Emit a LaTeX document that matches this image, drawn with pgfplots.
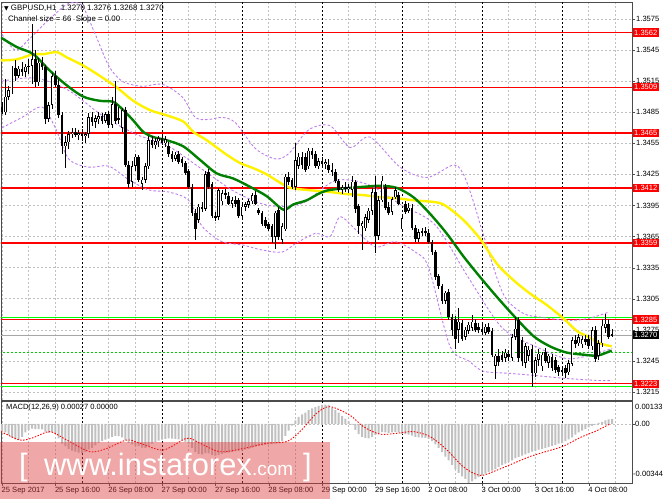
\documentclass[border=0pt]{standalone}
\usepackage{pgfplots}
\pgfplotsset{compat=1.18}
\usepackage{pgfplotstable}
\usepackage{fontspec}
\setmainfont{Liberation Sans}
\newfontfamily\symfont{DejaVu Sans}

\definecolor{mtgrid}{RGB}{192,192,192}
\definecolor{silver}{RGB}{192,192,192}
\definecolor{lilac}{RGB}{190,125,235}
\definecolor{mtgreen}{RGB}{0,128,0}
\definecolor{lime}{RGB}{0,255,0}
\definecolor{mtred}{RGB}{255,0,0}
\definecolor{wmred}{RGB}{220,60,60}

% hourly candles, x = bar index from 25 Sep 00:00
\pgfplotstableread{
i o h l c
0 1.3490 1.3495 1.3483 1.3485
1 1.3485 1.3517 1.3482 1.3500
2 1.3500 1.3510 1.3497 1.3506
3 1.3506 1.3530 1.3503 1.3528
4 1.3528 1.3535 1.3515 1.3520
5 1.3520 1.3530 1.3518 1.3527
6 1.3527 1.3533 1.3520 1.3524
7 1.3524 1.3532 1.3519 1.3529
8 1.3529 1.3536 1.3522 1.3530
9 1.3530 1.3570 1.3512 1.3536
10 1.3536 1.3545 1.3509 1.3514
11 1.3514 1.3537 1.3510 1.3533
12 1.3533 1.3538 1.3526 1.3529
13 1.3529 1.3531 1.3474 1.3479
14 1.3479 1.3495 1.3476 1.3492
15 1.3492 1.3523 1.3488 1.3520
16 1.3520 1.3525 1.3509 1.3511
17 1.3511 1.3517 1.3480 1.3482
18 1.3482 1.3485 1.3445 1.3452
19 1.3452 1.3462 1.3431 1.3456
20 1.3456 1.3467 1.3450 1.3464
21 1.3464 1.3470 1.3460 1.3466
22 1.3466 1.3470 1.3461 1.3463
23 1.3463 1.3468 1.3458 1.3465
24 1.3465 1.3469 1.3457 1.3462
25 1.3462 1.3466 1.3455 1.3464
26 1.3464 1.3484 1.3460 1.3480
27 1.3480 1.3485 1.3472 1.3476
28 1.3476 1.3482 1.3470 1.3479
29 1.3479 1.3485 1.3474 1.3481
30 1.3481 1.3484 1.3474 1.3477
31 1.3477 1.3485 1.3475 1.3483
32 1.3483 1.3486 1.3470 1.3473
33 1.3473 1.3500 1.3470 1.3493
34 1.3493 1.3515 1.3474 1.3477
35 1.3480 1.3490 1.3474 1.3478
36 1.3470 1.3489 1.3466 1.3487
37 1.3487 1.3490 1.3432 1.3434
38 1.3434 1.3438 1.3412 1.3416
39 1.3418 1.3438 1.3413 1.3433
40 1.3433 1.3445 1.3428 1.3442
41 1.3442 1.3444 1.3418 1.3420
42 1.3416 1.3423 1.3410 1.3420
43 1.3420 1.3436 1.3417 1.3433
44 1.3433 1.3462 1.3430 1.3458
45 1.3458 1.3462 1.3450 1.3453
46 1.3453 1.3460 1.3450 1.3457
47 1.3457 1.3462 1.3452 1.3460
48 1.3460 1.3463 1.3453 1.3455
49 1.3455 1.3462 1.3452 1.3459
50 1.3452 1.3456 1.3442 1.3445
51 1.3445 1.3448 1.3437 1.3440
52 1.3440 1.3447 1.3438 1.3444
53 1.3445 1.3448 1.3435 1.3437
54 1.3440 1.3442 1.3432 1.3436
55 1.3436 1.3438 1.3424 1.3426
56 1.3428 1.3430 1.3411 1.3413
57 1.3413 1.3416 1.3385 1.3388
58 1.3388 1.3392 1.3362 1.3372
59 1.3381 1.3396 1.3378 1.3394
60 1.3394 1.3398 1.3389 1.3392
61 1.3392 1.3428 1.3390 1.3425
62 1.3427 1.3430 1.3411 1.3413
63 1.3416 1.3418 1.3383 1.3385
64 1.3385 1.3389 1.3380 1.3383
65 1.3384 1.3412 1.3381 1.3410
66 1.3399 1.3410 1.3396 1.3407
67 1.3407 1.3411 1.3401 1.3405
68 1.3404 1.3408 1.3395 1.3397
69 1.3397 1.3403 1.3393 1.3400
70 1.3400 1.3404 1.3394 1.3396
71 1.3400 1.3402 1.3383 1.3385
72 1.3385 1.3396 1.3382 1.3394
73 1.3394 1.3398 1.3390 1.3396
74 1.3396 1.3401 1.3393 1.3399
75 1.3399 1.3407 1.3396 1.3405
76 1.3405 1.3409 1.3395 1.3397
77 1.3391 1.3393 1.3386 1.3388
78 1.3388 1.3390 1.3375 1.3377
79 1.3381 1.3384 1.3373 1.3375
80 1.3377 1.3379 1.3370 1.3372
81 1.3375 1.3377 1.3359 1.3365
82 1.3365 1.3390 1.3353 1.3388
83 1.3391 1.3394 1.3362 1.3365
84 1.3362 1.3378 1.3358 1.3375
85 1.3372 1.3425 1.3370 1.3423
86 1.3423 1.3427 1.3415 1.3418
87 1.3420 1.3422 1.3411 1.3413
88 1.3413 1.3455 1.3410 1.3439
89 1.3433 1.3446 1.3430 1.3442
90 1.3442 1.3447 1.3430 1.3434
91 1.3442 1.3446 1.3427 1.3429
92 1.3433 1.3451 1.3430 1.3448
93 1.3448 1.3450 1.3440 1.3444
94 1.3445 1.3448 1.3431 1.3433
95 1.3433 1.3441 1.3430 1.3438
96 1.3438 1.3442 1.3432 1.3435
97 1.3435 1.3440 1.3430 1.3437
98 1.3434 1.3440 1.3426 1.3429
99 1.3429 1.3436 1.3424 1.3427
100 1.3427 1.3430 1.3417 1.3419
101 1.3419 1.3421 1.3408 1.3410
102 1.3410 1.3415 1.3406 1.3413
103 1.3413 1.3418 1.3408 1.3411
104 1.3411 1.3416 1.3407 1.3413
105 1.3410 1.3424 1.3403 1.3418
106 1.3418 1.3420 1.3388 1.3392
107 1.3395 1.3397 1.3368 1.3375
108 1.3375 1.3380 1.3352 1.3378
109 1.3373 1.3387 1.3370 1.3384
110 1.3381 1.3393 1.3378 1.3390
111 1.3390 1.3412 1.3386 1.3408
112 1.3408 1.3423 1.3349 1.3366
113 1.3366 1.3404 1.3362 1.3400
114 1.3400 1.3423 1.3398 1.3419
115 1.3413 1.3416 1.3391 1.3393
116 1.3394 1.3398 1.3386 1.3388
117 1.3389 1.3403 1.3386 1.3401
118 1.3403 1.3413 1.3401 1.3410
119 1.3405 1.3408 1.3395 1.3397
120 1.3372 1.3386 1.3370 1.3383
121 1.3396 1.3399 1.3387 1.3389
122 1.3390 1.3397 1.3388 1.3393
123 1.3393 1.3396 1.3371 1.3373
124 1.3373 1.3376 1.3360 1.3363
125 1.3363 1.3372 1.3360 1.3369
126 1.3369 1.3373 1.3366 1.3370
127 1.3370 1.3374 1.3366 1.3368
128 1.3369 1.3372 1.3358 1.3360
129 1.3360 1.3362 1.3347 1.3350
130 1.3350 1.3352 1.3323 1.3326
131 1.3327 1.3329 1.3314 1.3317
132 1.3317 1.3319 1.3300 1.3303
133 1.3303 1.3313 1.3300 1.3311
134 1.3311 1.3314 1.3284 1.3287
135 1.3287 1.3290 1.3269 1.3275
136 1.3285 1.3288 1.3256 1.3266
137 1.3275 1.3296 1.3262 1.3283
138 1.3282 1.3285 1.3264 1.3266
139 1.3268 1.3278 1.3265 1.3275
140 1.3274 1.3283 1.3271 1.3280
141 1.3277 1.3289 1.3274 1.3283
142 1.3282 1.3286 1.3273 1.3275
143 1.3278 1.3282 1.3272 1.3275
144 1.3276 1.3281 1.3270 1.3273
145 1.3272 1.3281 1.3270 1.3278
146 1.3278 1.3282 1.3271 1.3273
147 1.3274 1.3277 1.3249 1.3251
148 1.3240 1.3252 1.3228 1.3250
149 1.3250 1.3256 1.3240 1.3244
150 1.3251 1.3255 1.3244 1.3246
151 1.3248 1.3257 1.3244 1.3253
152 1.3252 1.3256 1.3245 1.3249
153 1.3248 1.3271 1.3245 1.3268
154 1.3268 1.3287 1.3265 1.3276
155 1.3284 1.3287 1.3244 1.3248
156 1.3265 1.3268 1.3240 1.3245
157 1.3243 1.3262 1.3238 1.3259
158 1.3250 1.3259 1.3245 1.3256
159 1.3256 1.3260 1.3220 1.3233
160 1.3233 1.3249 1.3230 1.3246
161 1.3246 1.3256 1.3240 1.3252
162 1.3240 1.3254 1.3235 1.3251
163 1.3254 1.3257 1.3243 1.3245
164 1.3243 1.3252 1.3238 1.3250
165 1.3249 1.3252 1.3235 1.3238
166 1.3246 1.3249 1.3233 1.3236
167 1.3239 1.3241 1.3230 1.3234
168 1.3236 1.3239 1.3231 1.3235
169 1.3238 1.3241 1.3229 1.3233
170 1.3234 1.3246 1.3231 1.3243
171 1.3242 1.3268 1.3240 1.3265
172 1.3265 1.3270 1.3258 1.3261
173 1.3262 1.3271 1.3259 1.3268
174 1.3261 1.3269 1.3258 1.3266
175 1.3266 1.3270 1.3260 1.3263
176 1.3266 1.3270 1.3256 1.3259
177 1.3259 1.3278 1.3256 1.3275
178 1.3275 1.3279 1.3244 1.3247
179 1.3250 1.3265 1.3246 1.3262
180 1.3262 1.3285 1.3258 1.3279
181 1.3277 1.3290 1.3272 1.3281
182 1.3281 1.3285 1.3266 1.3268
183 1.3270 1.3276 1.3268 1.3270
}\candles

% MACD main line (histogram)
\pgfplotstableread{
i v
0 -0.00045
1 -0.00050
2 -0.00065
3 -0.00080
4 -0.00090
5 -0.00092
6 -0.00075
7 -0.00050
8 -0.00035
9 -0.00028
10 -0.00030
11 -0.00030
12 -0.00032
13 -0.00045
14 -0.00052
15 -0.00048
16 -0.00055
17 -0.00085
18 -0.00115
19 -0.00130
20 -0.00145
21 -0.00155
22 -0.00162
23 -0.00168
24 -0.00170
25 -0.00165
26 -0.00150
27 -0.00140
28 -0.00125
29 -0.00110
30 -0.00100
31 -0.00092
32 -0.00085
33 -0.00075
34 -0.00070
35 -0.00072
36 -0.00078
37 -0.00095
38 -0.00110
39 -0.00120
40 -0.00125
41 -0.00130
42 -0.00138
43 -0.00140
44 -0.00130
45 -0.00115
46 -0.00105
47 -0.00098
48 -0.00092
49 -0.00088
50 -0.00085
51 -0.00086
52 -0.00088
53 -0.00090
54 -0.00095
55 -0.00105
56 -0.00115
57 -0.00140
58 -0.00165
59 -0.00175
60 -0.00178
61 -0.00170
62 -0.00172
63 -0.00180
64 -0.00185
65 -0.00180
66 -0.00175
67 -0.00170
68 -0.00168
69 -0.00165
70 -0.00160
71 -0.00158
72 -0.00155
73 -0.00150
74 -0.00145
75 -0.00138
76 -0.00132
77 -0.00128
78 -0.00125
79 -0.00122
80 -0.00120
81 -0.00118
82 -0.00115
83 -0.00110
84 -0.00100
85 -0.00070
86 -0.00040
87 -0.00010
88 0.00020
89 0.00040
90 0.00055
91 0.00065
92 0.00080
93 0.00090
94 0.00098
95 0.00105
96 0.00110
97 0.00112
98 0.00110
99 0.00095
100 0.00080
101 0.00065
102 0.00045
103 0.00030
104 0.00015
105 -0.00005
106 -0.00035
107 -0.00060
108 -0.00075
109 -0.00082
110 -0.00084
111 -0.00075
112 -0.00065
113 -0.00055
114 -0.00048
115 -0.00050
116 -0.00052
117 -0.00050
118 -0.00048
119 -0.00050
120 -0.00058
121 -0.00060
122 -0.00062
123 -0.00068
124 -0.00075
125 -0.00078
126 -0.00080
127 -0.00082
128 -0.00088
129 -0.00100
130 -0.00120
131 -0.00140
132 -0.00165
133 -0.00190
134 -0.00212
135 -0.00240
136 -0.00265
137 -0.00285
138 -0.00305
139 -0.00320
140 -0.00344
141 -0.00335
142 -0.00322
143 -0.00310
144 -0.00298
145 -0.00290
146 -0.00280
147 -0.00272
148 -0.00262
149 -0.00250
150 -0.00240
151 -0.00232
152 -0.00222
153 -0.00212
154 -0.00200
155 -0.00192
156 -0.00185
157 -0.00178
158 -0.00170
159 -0.00162
160 -0.00158
161 -0.00150
162 -0.00145
163 -0.00140
164 -0.00135
165 -0.00128
166 -0.00122
167 -0.00115
168 -0.00110
169 -0.00100
170 -0.00090
171 -0.00078
172 -0.00062
173 -0.00050
174 -0.00040
175 -0.00030
176 -0.00020
177 -0.00012
178 -0.00005
179 0.00005
180 0.00012
181 0.00020
182 0.00026
183 0.00027
}\macd

\begin{document}
\begin{tikzpicture}[x=1bp,y=1bp]
\path[use as bounding box] (0,0) rectangle (665,499);
\begin{axis}[
  name=main,
  scale only axis, width=631bp, height=398bp,
  at={(1bp,497bp)}, anchor=north west,
  xmin=-0.3, xmax=189, ymin=1.320724, ymax=1.359141,
  axis line style={black!70, line width=0.8bp},
  xtick={0,16,...,176}, xticklabels={},
  minor xtick={8,24,...,184},
  extra x ticks={24,48,...,168}, extra x tick labels={},
  extra x tick style={grid=major, major grid style={black, dash pattern=on 2bp off 2bp, line width=0.6bp}, major tick length=0pt},
  xtick style={draw=none},
  ytick={1.3215,1.3245,...,1.3576},
  yticklabels={1.3215,1.3245,1.3275,1.3305,1.3335,1.3365,1.3395,1.3425,1.3455,1.3485,1.3515,1.3545,1.3575},
  ytick pos=right, yticklabel pos=right, tick align=outside,
  major tick length=3bp, ytick style={black!70},
  yticklabel style={inner sep=1bp, font=\fontsize{7.6}{8}\selectfont},
  grid=both,
  major grid style={mtgrid, dash pattern=on 2bp off 2bp, line width=0.5bp},
  minor grid style={mtgrid, dash pattern=on 2bp off 2bp, line width=0.5bp},
  clip=true,
]
% support / resistance lines
\addplot[lime, line width=1.4bp, forget plot] coordinates {(-1,1.32869) (190,1.32869)};
\addplot[lime, line width=1.4bp, forget plot] coordinates {(-1,1.32205) (190,1.32205)};
\addplot[lime!80!black, dash pattern=on 2bp off 2bp, line width=0.8bp, forget plot] coordinates {(-1,1.32536) (190,1.32536)};
\addplot[black!35, line width=0.6bp, forget plot] coordinates {(-1,1.3270) (190,1.3270)};
\addplot[mtred, line width=1.6bp, forget plot] coordinates {(-1,1.3562) (190,1.3562)};
\addplot[mtred, line width=1.6bp, forget plot] coordinates {(-1,1.3509) (190,1.3509)};
\addplot[mtred, line width=1.6bp, forget plot] coordinates {(-1,1.3465) (190,1.3465)};
\addplot[mtred, line width=1.6bp, forget plot] coordinates {(-1,1.3412) (190,1.3412)};
\addplot[mtred, line width=1.6bp, forget plot] coordinates {(-1,1.3359) (190,1.3359)};
\addplot[mtred, line width=1.6bp, forget plot] coordinates {(-1,1.3285) (190,1.3285)};
\addplot[mtred, line width=1.6bp, forget plot] coordinates {(-1,1.3223) (190,1.3223)};

% Bollinger bands: upper, middle, lower
\addplot[lilac, dash pattern=on 2.5bp off 2bp, line width=0.9bp, smooth] coordinates {
(0,1.3560) (4,1.3545) (8,1.3555) (12,1.3568) (16,1.3580) (20,1.3590) (24,1.3588) (28,1.3560)
(32,1.3530) (36,1.3515) (42,1.3510) (48,1.3512) (54,1.3500) (58,1.3480) (62,1.3478) (66,1.3480)
(70,1.3475) (76,1.3450) (82,1.3440) (86,1.3445) (92,1.3468) (98.4,1.3472) (104.4,1.3451)
(110.4,1.3461) (119.4,1.3432) (127.5,1.3422) (135.3,1.3434) (138.3,1.3426) (141.3,1.3400)
(144.3,1.3368) (150.3,1.3310) (156.3,1.3291) (162,1.3287) (170,1.3284) (176,1.3286) (182,1.3292)};
\addplot[lilac, dash pattern=on 2.5bp off 2bp, line width=0.9bp, smooth] coordinates {
(0,1.3515) (10,1.3518) (20,1.3506) (30,1.3482) (40,1.3464) (50,1.3452) (60,1.3430) (70,1.3408)
(80,1.3395) (90,1.3397) (100,1.3419) (110,1.3415) (120,1.3395) (130,1.3376) (140,1.3325)
(150,1.3277) (160,1.3259) (170,1.3247) (180,1.3254) (183,1.3257)};
\addplot[lilac, dash pattern=on 2.5bp off 2bp, line width=0.9bp, smooth] coordinates {
(0,1.3470) (6,1.3480) (12,1.3490) (16,1.3470) (20,1.3440) (26,1.3432) (32,1.3433) (38,1.3420)
(44,1.3410) (50,1.3408) (56,1.3400) (60,1.3375) (66,1.3360) (72,1.3357) (78,1.3352) (84,1.3350)
(88,1.3358) (94,1.3368) (98.4,1.3365) (101.4,1.3384) (106,1.3372) (112,1.3355) (118,1.3360) (124,1.3350)
(128,1.3335) (134.4,1.3259) (140,1.3245) (144.4,1.3235) (152,1.3233) (159.4,1.3231) (169.4,1.3228)
(179.4,1.3226) (183,1.3226)};

% moving averages
\addplot[yellow, line width=2.4bp, smooth] coordinates {
(-0.3,1.3535) (4.4,1.3536) (9.4,1.3541) (12.4,1.3541) (16.4,1.3543) (19.4,1.3538) (24.4,1.3530)
(29.4,1.3520) (34.4,1.3509) (39.4,1.3496) (44.4,1.3487) (49.4,1.3482) (54.4,1.3476) (57.4,1.3466)
(61.4,1.3458) (67.4,1.3444) (71.4,1.3436) (75.4,1.3431) (79.4,1.3425) (83.4,1.3417) (86.4,1.3412)
(91.4,1.3410) (98.4,1.3408) (103.4,1.3406) (108.4,1.3405) (113.4,1.3403) (118.4,1.3402)
(123.4,1.3400) (130.4,1.3398) (133.4,1.3394) (138.4,1.3381) (143.4,1.3363) (148.4,1.3339)
(153.4,1.3323) (158.4,1.3310) (163.4,1.3299) (168.4,1.3286) (172.4,1.3274) (175.4,1.3269)
(179.4,1.3262) (182.9,1.3259)};
\addplot[mtgreen, line width=2.4bp, smooth] coordinates {
(-0.3,1.3557) (4.4,1.3548) (9.4,1.3541) (14.4,1.3525) (19.4,1.3511) (24.4,1.3500) (29.4,1.3496)
(33.4,1.3495) (36.4,1.3487) (39.4,1.3477) (42.4,1.3466) (45.4,1.3461) (49.4,1.3458) (54.4,1.3452)
(59.4,1.3439) (64.4,1.3426) (69.4,1.3421) (74.4,1.3413) (79.4,1.3404) (84.4,1.3391) (87.4,1.3396)
(91.4,1.3400) (95.4,1.3407) (98.4,1.3410) (104.4,1.3412) (108.4,1.3413) (113.4,1.3414)
(118.4,1.3412) (123.4,1.3403) (128.4,1.3387) (133.4,1.3368) (138.4,1.3346) (143.4,1.3326)
(148.4,1.3307) (153.4,1.3289) (159.4,1.3269) (164.4,1.3259) (169.4,1.3253) (174.4,1.3251)
(178.4,1.3250) (181.4,1.3253) (182.9,1.3255)};

% candles: wicks, bodies, white fill of rising bodies
\addplot[draw=none, mark=none, forget plot, error bars/.cd, y dir=both, y explicit, error mark=none,
  error bar style={draw=black, solid, line width=0.7bp}]
  table[x=i, y expr={(\thisrow{h}+\thisrow{l})/2}, y error expr={(\thisrow{h}-\thisrow{l})/2}] {\candles};
\addplot[draw=none, mark=none, forget plot, error bars/.cd, y dir=both, y explicit, error mark=none,
  error bar style={draw=black, solid, line width=2.4bp}]
  table[x=i, y expr={(\thisrow{o}+\thisrow{c})/2}, y error expr={max(abs(\thisrow{c}-\thisrow{o})/2,0.00005)}] {\candles};
\addplot[draw=none, mark=none, forget plot, error bars/.cd, y dir=both, y explicit, error mark=none,
  error bar style={draw=white, solid, line width=1.0bp}]
  table[x=i, y expr={(\thisrow{o}+\thisrow{c})/2}, y error expr={max((\thisrow{c}-\thisrow{o})/2-0.00006,0)}] {\candles};

\coordinate (r1) at (axis cs:189,1.3562);
\coordinate (r2) at (axis cs:189,1.3509);
\coordinate (r3) at (axis cs:189,1.3465);
\coordinate (r4) at (axis cs:189,1.3412);
\coordinate (r5) at (axis cs:189,1.3359);
\coordinate (r6) at (axis cs:189,1.3285);
\coordinate (r7) at (axis cs:189,1.3223);
\coordinate (cur) at (axis cs:189,1.3270);
\end{axis}

\begin{axis}[
  name=macdax,
  scale only axis, width=631bp, height=82bp,
  at={(1bp,98bp)}, anchor=north west,
  xmin=-0.3, xmax=189, ymin=-0.00344, ymax=0.00133,
  scaled y ticks=false,
  axis line style={black!70, line width=0.8bp},
  xtick={0,16,...,176},
  xticklabels={25 Sep 2017,25 Sep 16:00,26 Sep 08:00,27 Sep 00:00,27 Sep 16:00,28 Sep 08:00,29 Sep 00:00,29 Sep 16:00,2 Oct 08:00,3 Oct 00:00,3 Oct 16:00,4 Oct 08:00},
  xticklabel style={anchor=north west, xshift=-1.5bp, inner sep=1bp, font=\fontsize{7.6}{8}\selectfont},
  minor xtick={8,24,...,184},
  extra x ticks={24,48,...,168}, extra x tick labels={},
  extra x tick style={grid=major, major grid style={black, dash pattern=on 2bp off 2bp, line width=0.6bp}, major tick length=0pt},
  xtick pos=bottom, tick align=outside, major tick length=3bp, minor tick length=0pt,
  tick style={black!70},
  ytick={0}, yticklabels={}, ytick pos=right,
  grid=both,
  major grid style={mtgrid, dash pattern=on 2bp off 2bp, line width=0.5bp},
  minor grid style={mtgrid, dash pattern=on 2bp off 2bp, line width=0.5bp},
]
\addplot[ybar, bar width=2bp, fill=silver, draw=none] table[x=i, y=v] {\macd};
\addplot[mtred, dash pattern=on 1.5bp off 1.5bp, line width=0.9bp, smooth] coordinates {
(-0.3,-0.00045) (5.4,-0.00094) (9.4,-0.00080) (14.4,-0.00045) (19.4,-0.00094) (26.4,-0.00162)
(31.4,-0.00143) (37.4,-0.00094) (41.4,-0.00113) (48.4,-0.00152) (55.4,-0.00084) (59.4,-0.00113)
(65.4,-0.00162) (72.4,-0.00143) (79.4,-0.00113) (85.4,-0.00103) (89.4,-0.00045) (94.4,0.00062)
(98.4,0.00100) (104.4,0.00050) (108.4,-0.00016) (113.4,-0.00060) (118.4,-0.00055) (123.4,-0.00045)
(128.4,-0.00074) (133.4,-0.00150) (138.4,-0.00250) (143.4,-0.00300) (148.4,-0.00270)
(153.4,-0.00230) (158.4,-0.00190) (163.4,-0.00160) (168.4,-0.00130) (173.4,-0.00080)
(178.4,-0.00040) (182.4,0.00000)};
\end{axis}

% price labels on the right
\foreach \p/\t in {r1/1.3562,r2/1.3509,r3/1.3465,r4/1.3412,r5/1.3359,r6/1.3285,r7/1.3223}
  \node[anchor=west, fill=mtred, text=white, inner xsep=1.5bp, inner ysep=1.4bp, font=\fontsize{7.6}{8}\selectfont] at ([xshift=0.5bp]\p) {\t};
\node[anchor=west, fill=black, text=white, inner xsep=1.5bp, inner ysep=1.4bp, font=\fontsize{7.6}{8}\selectfont] at ([xshift=0.5bp]cur) {1.3270};

% MACD scale labels
\node[anchor=north west, inner sep=0pt, font=\fontsize{7.6}{8}\selectfont] at (635,95) {0.00133};
\node[anchor=west, inner sep=0pt, font=\fontsize{7.6}{8}\selectfont] at (635,75.5) {0.00};
\node[anchor=south west, inner sep=0pt, font=\fontsize{7.6}{8}\selectfont] at (633,22) {-0.00344};

% titles
\node[anchor=west, inner sep=0pt, font=\fontsize{7.9}{8}\selectfont] at (4,491) {{\symfont\fontsize{6}{6}\selectfont ▼} GBPUSD,H1~ 1.3270 1.3276 1.3268 1.3270};
\node[anchor=west, inner sep=0pt, font=\fontsize{7.9}{8}\selectfont] at (8,480) {Channel size = 66~ Slope = 0.00};
\node[anchor=west, inner sep=0pt, font=\fontsize{7.6}{8}\selectfont] at (6,91) {MACD(12,26,9) 0.00027 0.00000};

% watermark
\fill[wmred, fill opacity=0.45] (0,0) rectangle (330,57);
\node[anchor=base west, inner sep=0pt, text=white, font=\fontsize{31}{31}\selectfont] at (19,23) {[};
\node[anchor=base west, inner sep=0pt, text=white, font=\fontsize{31}{31}\selectfont] at (44,23) {www.instaforex};
\node[anchor=base west, inner sep=0pt, text=white, font=\fontsize{19}{19}\selectfont] at (252,23) {.com};
\node[anchor=base west, inner sep=0pt, text=white, font=\fontsize{31}{31}\selectfont] at (303,23) {]};
\end{tikzpicture}
\end{document}
